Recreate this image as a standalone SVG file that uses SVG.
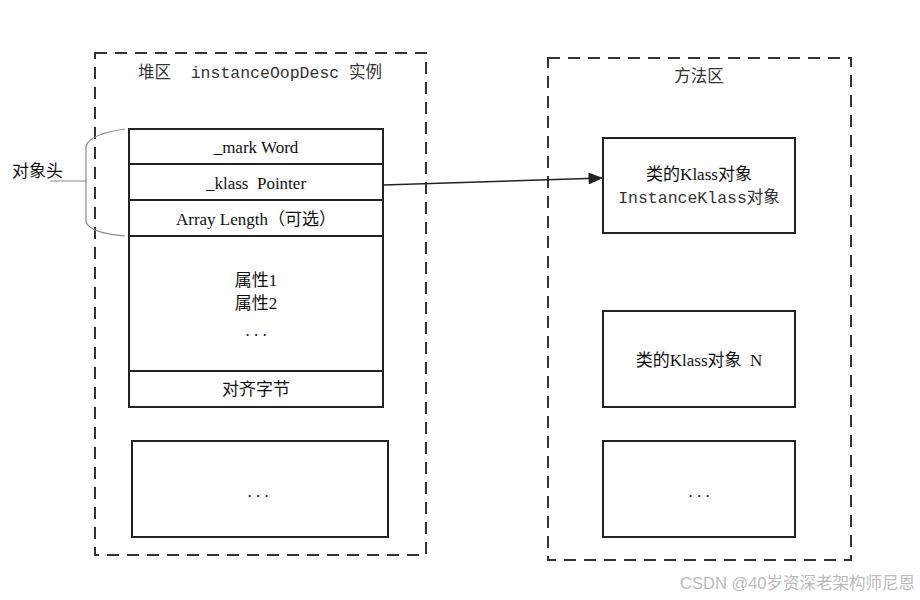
<svg xmlns="http://www.w3.org/2000/svg" width="920" height="600" viewBox="0 0 920 600">
<style>
.area{fill:none;stroke:#333;stroke-width:2;stroke-dasharray:12,8}
.box{fill:#fff;stroke:#222;stroke-width:2}
.t{font-family:"Liberation Serif","Noto Sans CJK SC",serif;font-size:17px;fill:#111;text-anchor:middle;white-space:pre}
.m{font-family:"Liberation Mono","Noto Sans CJK SC",monospace;font-size:16.5px;fill:#333;text-anchor:middle;white-space:pre}
.s{font-family:"Liberation Sans","Noto Sans CJK SC",sans-serif;font-size:17px;fill:#111}
</style>
<defs>
<marker id="arr" viewBox="0 0 12 10" refX="12" refY="5" markerWidth="16" markerHeight="12" markerUnits="userSpaceOnUse" orient="auto">
<path d="M0,0 L12,5 L0,10 z" fill="#222"/>
</marker>
</defs>
<rect width="920" height="600" fill="#fff"/>
<g id="heap">
<rect class="area" x="95" y="53" width="331" height="502"/>
<text class="m" x="260" y="78" xml:space="preserve">堆区  instanceOopDesc 实例</text>
</g>
<g id="method">
<rect class="area" x="548" y="58" width="303" height="502"/>
<text class="m" x="699" y="82">方法区</text>
</g>
<g id="obj">
<rect class="box" x="129" y="129" width="254" height="278"/>
<line x1="129" y1="164" x2="383" y2="164" stroke="#222" stroke-width="2"/>
<line x1="129" y1="200" x2="383" y2="200" stroke="#222" stroke-width="2"/>
<line x1="129" y1="236" x2="383" y2="236" stroke="#222" stroke-width="2"/>
<line x1="129" y1="371" x2="383" y2="371" stroke="#222" stroke-width="2"/>
<text class="t" x="256" y="153">_mark Word</text>
<text class="t" x="256" y="189" xml:space="preserve">_klass  Pointer</text>
<text class="t" x="256" y="225">Array Length（可选）</text>
<text class="t" x="256" y="286">属性1</text>
<text class="t" x="256" y="309">属性2</text>
<text class="t" x="256" y="336">. . .</text>
<text class="t" x="256" y="395">对齐字节</text>
</g>
<g id="heapmore">
<rect class="box" x="132" y="441" width="256" height="96"/>
<text class="t" x="258" y="497">. . .</text>
</g>
<g id="klass1">
<rect class="box" x="603" y="138" width="192" height="95"/>
<text class="t" x="699" y="180">类的Klass对象</text>
<text class="m" x="699" y="203">InstanceKlass对象</text>
</g>
<g id="klassN">
<rect class="box" x="603" y="311" width="192" height="96"/>
<text class="t" x="699" y="366" xml:space="preserve">类的Klass对象  N</text>
</g>
<g id="klassmore">
<rect class="box" x="603" y="441" width="192" height="96"/>
<text class="t" x="699" y="497">. . .</text>
</g>
<g id="header">
<path d="M125,129 Q90,134 86,146 L86,222 Q90,233 125,236" fill="none" stroke="#888" stroke-width="1.2"/>
<line x1="50" y1="181" x2="86" y2="181" stroke="#888" stroke-width="1.2"/>
<text class="s" x="12" y="177">对象头</text>
</g>
<g id="connectors">
<line x1="383" y1="185" x2="603" y2="178" stroke="#222" stroke-width="1.5" marker-end="url(#arr)"/>
</g>
<text x="915" y="589" font-family="Liberation Sans,Noto Sans CJK SC,sans-serif" font-size="16.5" fill="#bbb" text-anchor="end">CSDN @40岁资深老架构师尼恩</text>
</svg>
